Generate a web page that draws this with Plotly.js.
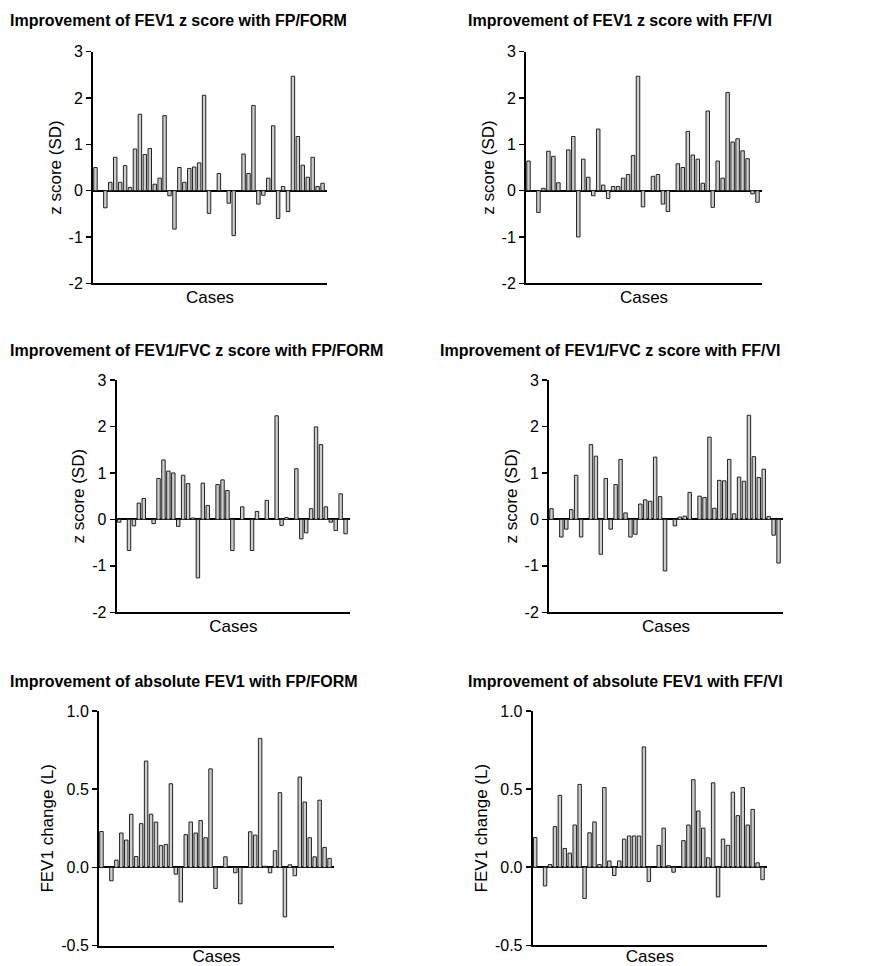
<!DOCTYPE html>
<html>
<head>
<meta charset="utf-8">
<script src="https://cdn.plot.ly/plotly-3.0.1.min.js"></script>
<style>html,body{margin:0;padding:0;background:#fff;}#chart{width:871px;height:966px;}</style>
</head>
<body>
<div id="chart"></div>
<script>
// Case values (null = no bar drawn for that case)
const fev1zFP = [0.50,null,-0.37,0.18,0.72,0.18,0.54,0.07,0.90,1.65,0.78,0.91,0.14,0.27,1.62,-0.11,-0.83,0.50,0.18,0.48,0.51,0.60,2.06,-0.49,null,0.37,null,-0.27,-0.97,null,0.79,0.37,1.84,-0.29,-0.10,0.27,1.40,-0.60,0.09,-0.45,2.47,1.17,0.55,0.29,0.72,0.09,0.16];
const fev1zFF = [0.64,null,-0.47,0.05,0.85,0.74,0.17,null,0.88,1.17,-1.00,0.68,0.29,-0.11,1.33,0.12,-0.17,0.09,0.09,0.27,0.35,0.76,2.47,-0.35,null,0.31,0.35,-0.29,-0.45,null,0.58,0.50,1.28,0.77,0.68,0.16,1.72,-0.36,0.64,0.27,2.12,1.05,1.12,0.86,0.69,-0.07,-0.25];
const ratiozFP = [-0.06,null,-0.67,-0.14,0.35,0.45,null,-0.09,0.88,1.28,1.04,1.00,-0.15,0.95,0.77,0.03,-1.26,0.78,0.30,null,0.75,0.85,0.62,-0.67,null,0.27,null,-0.67,0.17,null,0.41,null,2.23,-0.13,0.04,null,1.09,-0.42,-0.29,0.23,1.99,1.61,0.27,-0.06,-0.24,0.55,-0.31];
const ratiozFF = [0.23,null,-0.38,-0.21,0.21,0.95,-0.38,null,1.61,1.36,-0.75,0.88,-0.21,0.75,1.29,0.14,-0.38,-0.32,0.33,0.42,0.39,1.34,0.49,-1.11,null,-0.14,0.05,0.07,0.58,null,0.50,0.47,1.77,0.24,0.84,0.83,1.29,0.12,0.91,0.82,2.24,1.35,0.90,1.08,0.06,-0.34,-0.94];
const absFP = [0.23,null,-0.085,0.047,0.22,0.175,0.34,0.07,0.28,0.68,0.34,0.29,0.14,0.147,0.535,-0.043,-0.22,0.21,0.29,0.22,0.30,0.19,0.63,-0.134,null,0.068,null,-0.034,-0.232,null,0.228,0.207,0.825,0.008,-0.034,0.107,0.478,-0.316,0.017,-0.053,0.578,0.418,0.19,0.068,0.43,0.128,0.058];
const absFF = [0.19,null,-0.12,0.017,0.26,0.46,0.12,0.09,0.27,0.53,-0.20,0.22,0.29,0.017,0.51,0.04,-0.053,0.04,0.18,0.20,0.20,0.20,0.77,-0.092,null,0.14,0.25,0.01,-0.032,null,0.17,0.27,0.56,0.36,0.25,0.06,0.54,-0.19,0.18,0.14,0.48,0.33,0.51,0.27,0.37,0.028,-0.08];

const titles = [
  "Improvement of FEV1 z score with FP/FORM",
  "Improvement of FEV1 z score with FF/VI",
  "Improvement of FEV1/FVC z score with FP/FORM",
  "Improvement of FEV1/FVC z score with FF/VI",
  "Improvement of absolute FEV1 with FP/FORM",
  "Improvement of absolute FEV1 with FF/VI"
];
const yTitles = ["z score (SD)","z score (SD)","z score (SD)","z score (SD)","FEV1 change (L)","FEV1 change (L)"];
const xTitle = "Cases";
const zTicks = [-2,-1,0,1,2,3];
const zTickText = ["-2","-1","0","1","2","3"];
const absTicks = [-0.5,0,0.5,1.0];
const absTickText = ["-0.5","0.0","0.5","1.0"];
const series = [fev1zFP, fev1zFF, ratiozFP, ratiozFF, absFP, absFF];

const W = 871, H = 966;
// pixel boxes: [left, right, top, bottom]
const boxes = [
  [93, 327, 51.7, 283.3],
  [526, 762, 51.7, 283.3],
  [116.7, 350, 380, 612.3],
  [549, 783, 380, 612.3],
  [99, 334, 711, 945.7],
  [532.7, 767, 711, 945.3]
];
const titlePos = [[8,21],[466,21],[8,351],[438,351],[8,681],[466,681]];

const FONT = "Arial, 'Liberation Sans', Helvetica, sans-serif";
const data = [];
const layout = {
  width: W, height: H,
  margin: {l:0,r:0,t:0,b:0},
  paper_bgcolor: "#fff", plot_bgcolor: "#fff",
  showlegend: false,
  bargap: 0.3,
  font: {family: FONT, color: "#000"},
  annotations: []
};

series.forEach((vals, k) => {
  const n = k + 1;
  const xs = vals.map((v, i) => i + 1);
  data.push({
    type: "bar", x: xs, y: vals,
    xaxis: "x" + (n === 1 ? "" : n), yaxis: "y" + (n === 1 ? "" : n),
    marker: {color: "#cdcdcd", line: {color: "#222", width: 1}},
    hoverinfo: "x+y"
  });
  const b = boxes[k];
  const isAbs = k >= 4;
  layout["xaxis" + (n === 1 ? "" : n)] = {
    domain: [b[0]/W, b[1]/W],
    anchor: "y" + (n === 1 ? "" : n),
    range: [0.5, 47.9],
    showgrid: false, zeroline: false,
    showline: true, linecolor: "#000", linewidth: 2,
    showticklabels: false, ticks: "",
    title: {text: xTitle, font: {size: 17, family: FONT, color: "#000"}, standoff: 7}
  };
  layout["yaxis" + (n === 1 ? "" : n)] = {
    domain: [1 - b[3]/H, 1 - b[2]/H],
    anchor: "x" + (n === 1 ? "" : n),
    range: isAbs ? [-0.5, 1.0] : [-2, 3],
    tickvals: isAbs ? absTicks : zTicks,
    ticktext: isAbs ? absTickText : zTickText,
    showgrid: false,
    zeroline: true, zerolinecolor: "#000", zerolinewidth: 2,
    showline: true, linecolor: "#000", linewidth: 2,
    ticks: "outside", ticklen: 5, tickwidth: 1.5, tickcolor: "#000",
    tickfont: {size: 16, family: FONT, color: "#000"},
    title: {text: yTitles[k], font: {size: 17, family: FONT, color: "#000"}, standoff: 3}
  };
  layout.annotations.push({
    text: "<b>" + titles[k] + "</b>",
    xref: "paper", yref: "paper",
    x: titlePos[k][0]/W, y: 1 - titlePos[k][1]/H,
    xanchor: "left", yanchor: "middle",
    showarrow: false,
    font: {size: 16, family: FONT, color: "#000"}
  });
});

Plotly.newPlot("chart", data, layout, {displayModeBar: false, staticPlot: true});
</script>
</body>
</html>
